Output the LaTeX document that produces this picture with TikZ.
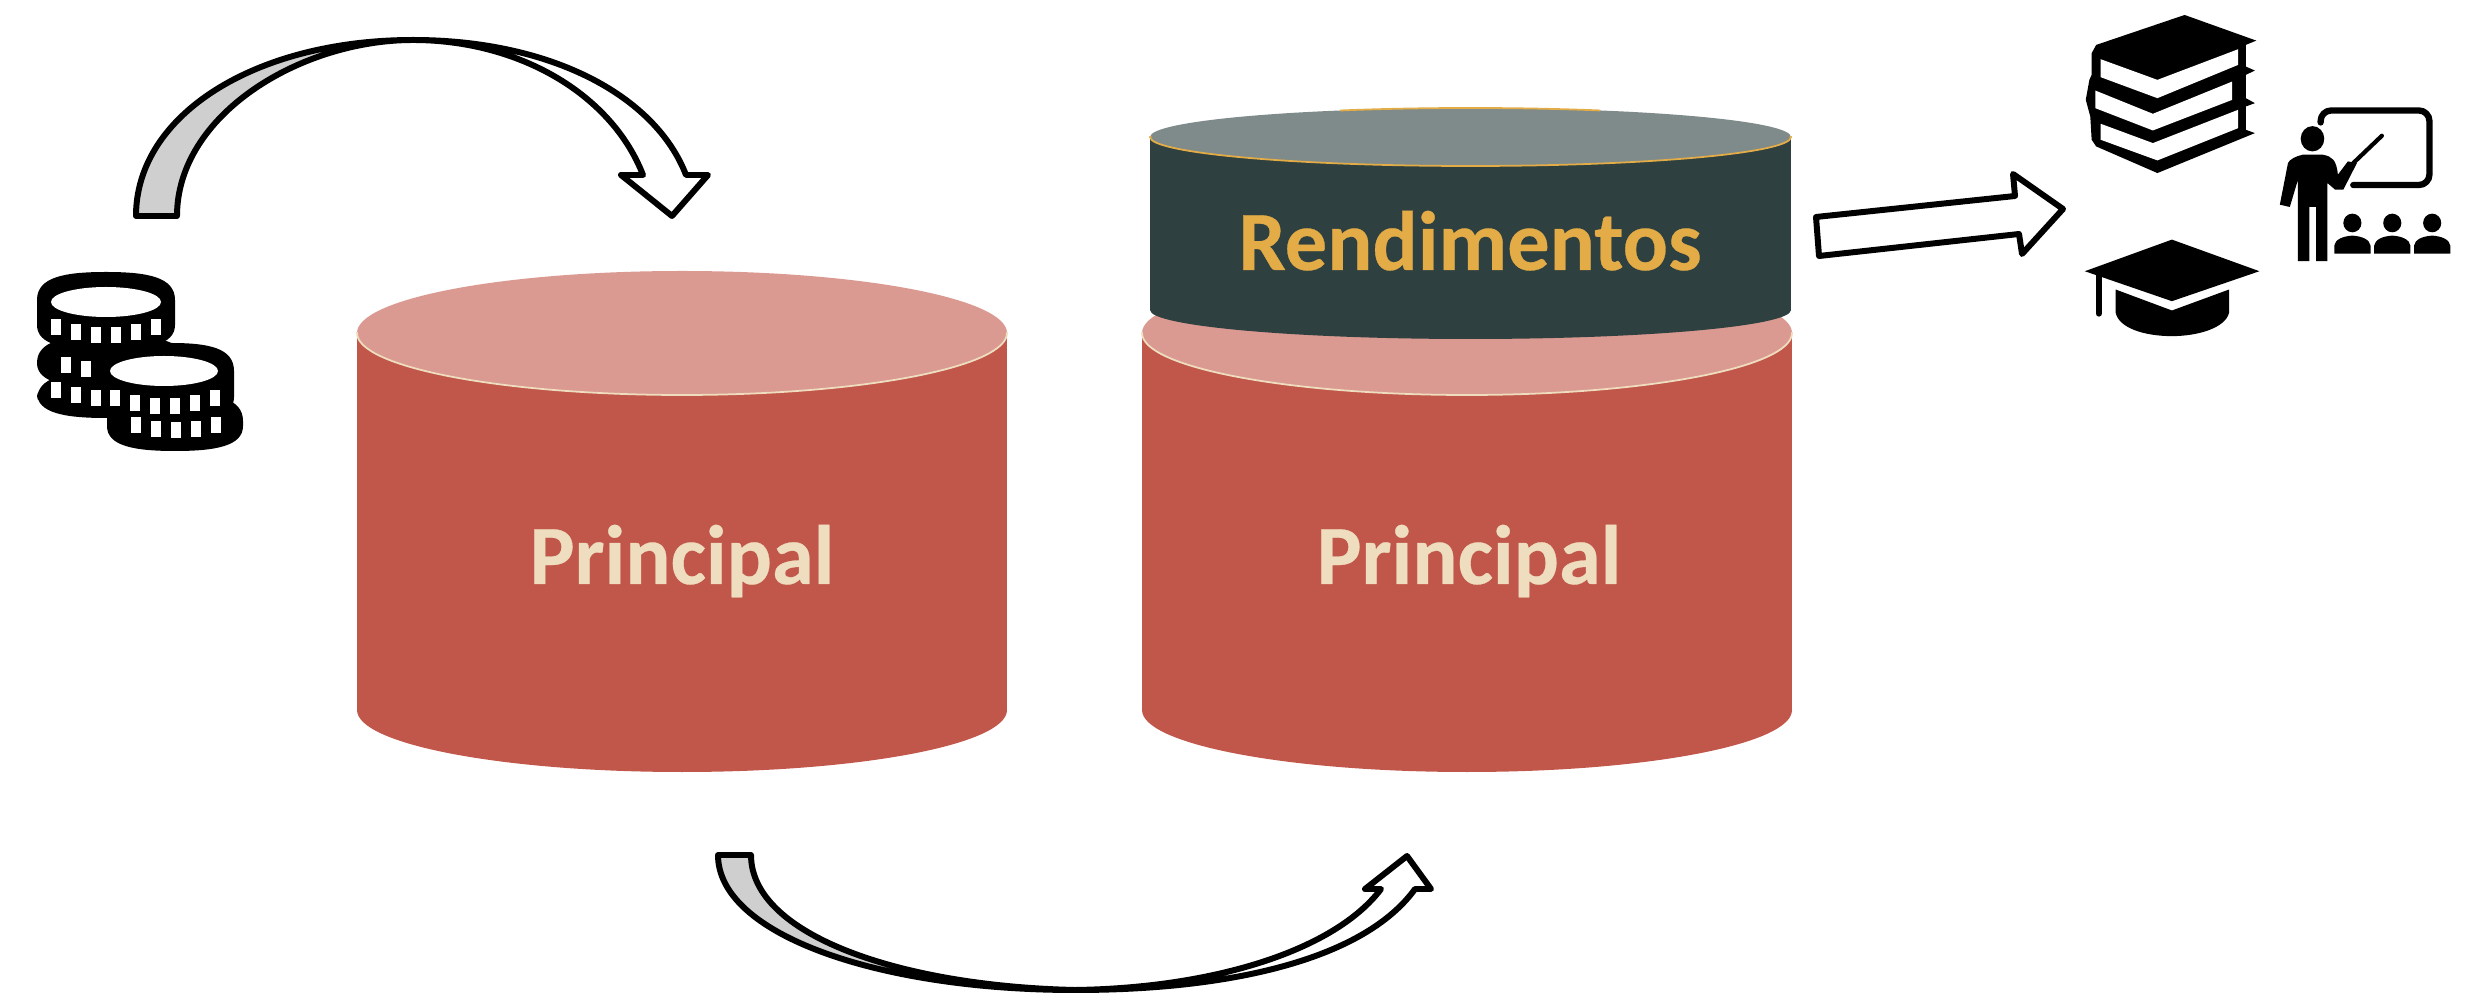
\documentclass[tikz,border=0pt]{standalone}
\usepackage{fontspec}
\setmainfont[BoldFeatures={FakeBold=0.35}]{Carlito}
\pgfdeclarelayer{bodylayer}
\pgfdeclarelayer{nodelayer}
\pgfsetlayers{bodylayer,nodelayer,main}
\definecolor{brick}{HTML}{C1574A}
\definecolor{rose}{HTML}{DB9A91}
\definecolor{cream}{HTML}{EEDDBE}
\definecolor{slate}{HTML}{2E403F}
\definecolor{mist}{HTML}{7F8B8A}
\definecolor{amber}{HTML}{E3AC47}
\definecolor{backgray}{HTML}{CFCFCF}
\tikzstyle{principal label}=[text=cream, font=\fontsize{24}{28}\selectfont\bfseries, anchor=base]
\tikzstyle{yield label}=[text=amber, font=\fontsize{24}{28}\selectfont\bfseries, anchor=base]
\tikzstyle{block arrow}=[draw=black, line width=1.7pt, line join=round]
\tikzstyle{icon line}=[draw=black, line width=1.8pt, line cap=round, line join=round]
\newcommand{\coinrow}[3]{\foreach \dx in {#3} \fill[white] (#1+\dx-5,#2-\dx*\dx*0.003-8) rectangle (#1+\dx+5,#2-\dx*\dx*0.003+8);}
\newcommand{\coinbody}[4]{\fill[black] (#1-#3,#2+28) .. controls (#1-#3,#2+5) and (#1-#3*0.6,#2) .. (#1,#2) .. controls (#1+#3*0.6,#2) and (#1+#3,#2+5) .. (#1+#3,#2+28) -- (#1+#3,#4-25) .. controls (#1+#3,#4-5) and (#1+#3*0.6,#4) .. (#1,#4) .. controls (#1-#3*0.6,#4) and (#1-#3,#4-5) .. (#1-#3,#4-25) -- cycle;}
\begin{document}
\begin{tikzpicture}[x=0.01cm,y=-0.01cm]
	\useasboundingbox (0,0) rectangle (2489,995);
	\begin{pgfonlayer}{bodylayer}
		\foreach \cx/\cname in {682/principalleft,1467/principalright} {
			\fill [brick] (\cx,710) ellipse [x radius=325, y radius=62];
			\fill [brick] (\cx-325,333) rectangle (\cx+325,710);
			\fill [rose] (\cx,333) ellipse [x radius=325, y radius=62];
			\begin{scope}
				\clip (\cx-330,333) rectangle (\cx+330,400);
				\draw [cream, line width=0.5pt] (\cx,333) ellipse [x radius=325, y radius=62];
			\end{scope}
		}
		\fill [slate] (1470.5,310) ellipse [x radius=320.5, y radius=29];
		\fill [slate] (1150,137) rectangle (1791,310);
		\fill [mist] (1470.5,137) ellipse [x radius=320.5, y radius=29];
		\begin{scope}
			\clip (1145,137) rectangle (1796,170);
			\draw [amber, line width=0.5pt] (1470.5,137) ellipse [x radius=320.5, y radius=29];
		\end{scope}
		\begin{scope}
			\clip (1340,100) rectangle (1600,120);
			\draw [amber, line width=0.5pt] (1470.5,137) ellipse [x radius=320.5, y radius=29];
		\end{scope}
	\end{pgfonlayer}
	\begin{pgfonlayer}{nodelayer}
		\node [style=principal label] (principalleft) at (682,584) {Principal};
		\node [style=principal label] (principalright) at (1469,584) {Principal};
		\node [style=yield label] (rendimentos) at (1470,270) {Rendimentos};
	\end{pgfonlayer}
	% top curved arrow
	\draw [style=block arrow, fill=backgray] (136,216) .. controls (136,115) and (255,40) .. (413,40) .. controls (300,40) and (177,115) .. (177,216) -- cycle;
	\draw [style=block arrow, fill=white] (413,40) .. controls (550,40) and (655,95) .. (686,175) -- (708,175) -- (672,216) -- (621,175) -- (643,175) .. controls (612,95) and (520,40) .. (413,40) -- cycle;
	% bottom curved arrow
	\draw [style=block arrow, fill=backgray] (718,855) .. controls (718,935) and (880,990) .. (1075,990) .. controls (900,986) and (751,935) .. (751,855) -- cycle;
	\draw [style=block arrow, fill=white] (1075,990) .. controls (1235,990) and (1365,958) .. (1415,889) -- (1431,889) -- (1407,856) -- (1365,889) -- (1381,889) .. controls (1335,950) and (1215,988) .. (1075,990) -- cycle;
	% straight arrow
	\draw [style=block arrow, fill=white] (1816,217) -- (2015,196) -- (2013,174) -- (2063,209) -- (2022,254) -- (2019,234) -- (1819,256) -- cycle;
	% coins
	\coinbody{106}{372}{69}{418}
	\coinbody{111}{335}{74}{388}
	\coinrow{106}{398}{-50,-30,-10}
	\coinrow{106}{370}{-40,-20}
	\coinbody{106}{272}{69}{350}
	\fill [white] (106,302) ellipse [x radius=55, y radius=15];
	\coinrow{106}{335}{-50,-30,-10,10,30,50}
	\coinbody{175}{393}{68}{451}
	\coinbody{171}{343}{63}{422}
	\fill [white] (164,371) ellipse [x radius=54, y radius=15];
	\coinrow{165}{406}{-50,-30,-10,10,30,50}
	\coinrow{176}{430}{-40,-20,0,20,40}
	% books, cap and teacher, traced in crop units
	\begin{scope}[xshift=17.8cm,x=0.004525cm,y=-0.003333cm]
		\fill [black] (890,45) -- (1048,122) -- (1025,135) -- (1025,200) -- (1045,212) -- (1025,225) -- (1025,295) -- (1045,310) -- (1025,320) -- (1025,390) -- (1045,400) -- (830,520) -- (695,440) -- (685,420) -- (682,350) -- (672,300) -- (680,240) -- (685,225) -- (685,160) -- (695,135) -- cycle;
		\fill [white] (705,178) -- (830,240) -- (1008,148) -- (1008,195) -- (830,295) -- (705,232) -- cycle;
		\fill [white] (693,272) -- (820,342) -- (995,245) -- (995,300) -- (820,392) -- (693,325) -- cycle;
		\fill [white] (705,372) -- (820,430) -- (1008,330) -- (1008,385) -- (830,482) -- (705,420) -- cycle;
		\fill [black] (862,720) -- (1055,815) -- (862,905) -- (670,815) -- cycle;
		\draw [style=icon line] (701,820) -- (701,942);
		\fill [black] (738,870) -- (862,933) -- (988,870) -- (988,940) .. controls (980,985) and (920,1010) .. (862,1010) .. controls (800,1010) and (745,985) .. (738,940) -- cycle;
		\fill [black] (1172,417) ellipse [x radius=26, y radius=38];
		\fill [black] (1150,465) -- (1195,465) .. controls (1215,470) and (1225,480) .. (1228,525) -- (1250,485) -- (1270,490) -- (1240,570) -- (1222,570) -- (1205,550) -- (1205,785) -- (1180,785) -- (1180,622) -- (1165,622) -- (1165,785) -- (1140,785) -- (1140,540) -- (1122,622) -- (1100,615) -- (1118,490) .. controls (1122,478) and (1135,470) .. (1150,465) -- cycle;
		\draw [style=icon line, line width=1.2pt] (1262,490) -- (1325,408);
		\draw [style=icon line, rounded corners=3pt] (1190,368) -- (1190,332) -- (1430,332) -- (1430,556) -- (1262,556);
		\foreach \px in {1260,1348,1436} {
			\fill [black] (\px,670) ellipse [x radius=20, y radius=28];
			\fill [black] (\px-40,762) -- (\px-40,738) .. controls (\px-38,720) and (\px-22,710) .. (\px,708) .. controls (\px+22,710) and (\px+38,720) .. (\px+40,738) -- (\px+40,762) -- cycle;
		}
	\end{scope}
\end{tikzpicture}
\end{document}
